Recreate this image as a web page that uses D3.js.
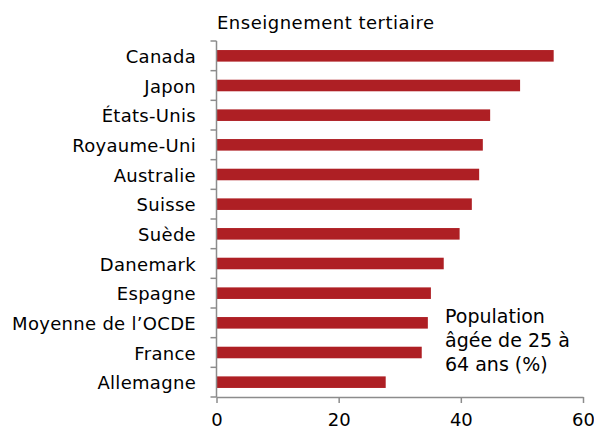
<!DOCTYPE html>
<html><head><meta charset="utf-8">
<script src="https://cdn.jsdelivr.net/npm/d3@7"></script>
<style>body{margin:0;background:#fff}svg{display:block}text{font-family:"DejaVu Sans",sans-serif;fill:#000}</style>
</head><body><svg id="c" width="594" height="431"></svg>
<script>
const categories = ["Canada","Japon","États-Unis","Royaume-Uni","Australie","Suisse","Suède","Danemark","Espagne","Moyenne de l’OCDE","France","Allemagne"];
const values = [55.2,49.7,44.8,43.6,43.0,41.8,39.8,37.2,35.1,34.6,33.6,27.7];
const xTicks = [0,20,40,60];
const title = "Enseignement tertiaire";
const note = ["Population","âgée de 25 à","64 ans (%)"];

const svg = d3.select("#c");
const m = {l:216.5, r:583, t:41, b:397};
const x = d3.scaleLinear().domain([0,60]).range([m.l,m.r]);
const y = d3.scaleBand().domain(categories).range([m.t,m.b]).paddingInner(0.61).paddingOuter(0.305);
const yb = d3.scaleBand().domain(categories).range([m.t,m.b]);
const axisColor = "#8c8c8c";
const fs = 18;

svg.selectAll("rect.bar").data(categories).join("rect")
  .attr("x", x(0)).attr("y", d=>y(d)).attr("height", y.bandwidth())
  .attr("width", (d,i)=>x(values[i])-x(0)).attr("fill","#ae1f24");

// y axis line and ticks at band boundaries
const bounds = categories.map(d=>yb(d)).concat([m.b]);
svg.append("line").attr("x1",x(0)).attr("x2",x(0)).attr("y1",m.t).attr("y2",m.b).attr("stroke",axisColor).attr("stroke-width",1.5);
svg.selectAll("line.yt").data(bounds).join("line").attr("x1",x(0)-6).attr("x2",x(0)).attr("y1",d=>d).attr("y2",d=>d).attr("stroke",axisColor).attr("stroke-width",1.5);
svg.selectAll("text.yl").data(categories).join("text")
  .attr("x",196).attr("y",d=>yb(d)+yb.bandwidth()/2).attr("dy","0.4em")
  .attr("text-anchor","end").attr("font-size",fs).attr("letter-spacing","0.3px").text(d=>d);

// x axis
const xa = svg.append("g").attr("transform",`translate(0,${m.b})`)
  .call(d3.axisBottom(x).tickValues(xTicks).tickSize(6).tickSizeOuter(0).tickPadding(10));
xa.select(".domain").attr("stroke",axisColor).attr("stroke-width",1.5);
xa.selectAll(".tick line").attr("stroke",axisColor).attr("stroke-width",1.5);
xa.selectAll(".tick text").attr("font-size",fs).attr("font-family","DejaVu Sans").attr("fill","#000");

svg.append("text").attr("x",217).attr("y",28.5).attr("font-size",fs).attr("letter-spacing","0.5px").text(title);
svg.selectAll("text.note").data(note).join("text").attr("x",445).attr("y",(d,i)=>322.5+i*24).attr("font-size",19).text(d=>d);
</script></body></html>
